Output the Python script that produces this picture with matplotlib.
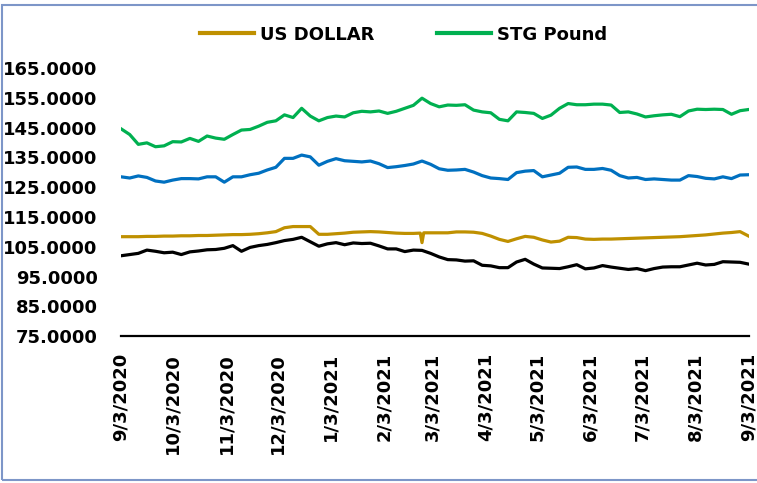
import matplotlib
matplotlib.use('Agg')
import numpy as np
import pandas as pd
import matplotlib.pyplot as plt
from matplotlib.lines import Line2D
from matplotlib.patches import Rectangle

# one value every 5 days from 9/3/2020 to 9/3/2021
start_date = '2020-09-03'
end_date = '2021-09-03'

stg_pound = [
    144.6, 142.7, 139.4, 139.9, 138.6, 138.9, 140.3, 140.2, 141.4, 140.4,
    142.2, 141.5, 141.1, 142.7, 144.2, 144.4, 145.5, 146.8, 147.3, 149.3,
    148.4, 151.5, 148.9, 147.3, 148.4, 148.9, 148.6, 150.0, 150.5, 150.3,
    150.6, 149.8, 150.5, 151.5, 152.5, 154.9, 153.1, 152.0, 152.6, 152.5,
    152.7, 150.9, 150.3, 150.0, 147.8, 147.3, 150.3, 150.1, 149.8, 148.1,
    149.2, 151.5, 153.1, 152.7, 152.7, 152.9, 152.9, 152.6, 150.1, 150.3,
    149.6, 148.6, 149.0, 149.3, 149.5, 148.7, 150.6, 151.2, 151.1, 151.2,
    151.1, 149.5, 150.7, 151.1,
]

blue_series = [
    128.5, 128.1, 128.8, 128.3, 127.1, 126.7, 127.4, 127.9, 127.9, 127.8,
    128.5, 128.5, 126.7, 128.5, 128.5, 129.2, 129.7, 130.8, 131.7, 134.7,
    134.7, 135.8, 135.2, 132.4, 133.7, 134.6, 133.9, 133.7, 133.5, 133.8,
    132.9, 131.6, 131.9, 132.3, 132.8, 133.8, 132.7, 131.2, 130.7, 130.8,
    131.0, 130.1, 128.9, 128.1, 127.9, 127.6, 129.9, 130.4, 130.6, 128.5,
    129.1, 129.7, 131.7, 131.8, 131.0, 131.0, 131.3, 130.7, 128.9, 128.1,
    128.3, 127.6, 127.8, 127.6, 127.4, 127.4, 128.9, 128.6, 128.0, 127.8,
    128.5, 127.9, 129.1, 129.2,
]

us_dollar = [
    108.4, 108.4, 108.4, 108.5, 108.5, 108.6, 108.6, 108.7, 108.7, 108.8,
    108.8, 108.9, 109.0, 109.1, 109.1, 109.2, 109.4, 109.7, 110.1, 111.4,
    111.8, 111.8, 111.8, 109.2, 109.2, 109.4, 109.6, 109.9, 110.0, 110.1,
    110.0, 109.8, 109.6, 109.5, 109.5, 106.4, 109.7, 109.7, 109.7, 110.0,
    110.0, 109.9, 109.5, 108.6, 107.5, 106.8, 107.7, 108.5, 108.2, 107.3,
    106.6, 106.9, 108.2, 108.1, 107.6, 107.5, 107.6, 107.6, 107.7, 107.8,
    107.9, 108.0, 108.1, 108.2, 108.3, 108.4, 108.6, 108.8, 109.0, 109.3,
    109.6, 109.8, 110.1, 108.6,
]
# the one-day dip in late Feb: neighbouring days
usd_extra_dates = ['2021-02-24', '2021-02-26']
usd_extra_vals = [109.6, 109.7]

black_series = [
    102.0, 102.4, 102.8, 103.9, 103.5, 103.0, 103.2, 102.4, 103.3, 103.6,
    104.0, 104.1, 104.5, 105.4, 103.5, 104.8, 105.4, 105.8, 106.4, 107.1,
    107.5, 108.2, 106.7, 105.2, 106.0, 106.4, 105.7, 106.3, 106.1, 106.2,
    105.3, 104.3, 104.3, 103.4, 103.9, 103.8, 102.8, 101.6, 100.7, 100.6,
    100.2, 100.3, 98.8, 98.6, 98.0, 98.0, 99.9, 100.8, 99.2, 97.9,
    97.8, 97.7, 98.3, 99.0, 97.6, 97.9, 98.7, 98.2, 97.8, 97.4,
    97.7, 97.0, 97.7, 98.2, 98.3, 98.3, 98.9, 99.5, 98.9, 99.1,
    100.0, 99.9, 99.8, 99.2,
]

tick_dates = ['2020-09-03', '2020-10-03', '2020-11-03', '2020-12-03', '2021-01-03',
              '2021-02-03', '2021-03-03', '2021-04-03', '2021-05-03', '2021-06-03',
              '2021-07-03', '2021-08-03', '2021-09-03']
tick_labels = ['9/3/2020', '10/3/2020', '11/3/2020', '12/3/2020', '1/3/2021',
               '2/3/2021', '3/3/2021', '4/3/2021', '5/3/2021', '6/3/2021',
               '7/3/2021', '8/3/2021', '9/3/2021']
y_ticks = [75, 85, 95, 105, 115, 125, 135, 145, 155, 165]

dates = pd.date_range(start_date, end_date, freq='5D')

usd = pd.Series(us_dollar, index=dates)
usd = pd.concat([usd, pd.Series(usd_extra_vals, index=pd.to_datetime(usd_extra_dates))]).sort_index()

plt.rcParams['font.family'] = ['DejaVu Sans']
plt.rcParams['font.weight'] = 'bold'

fig = plt.figure(figsize=(7.57, 4.83), dpi=100)
ax = fig.add_axes([0.160, 0.304, 0.829, 0.555])

lw = 2.3
ax.plot(dates, blue_series, color='#0070C0', lw=lw, solid_joinstyle='round')
ax.plot(dates, black_series, color='#000000', lw=lw, solid_joinstyle='round')
ax.plot(usd.index, usd.values, color='#BF9000', lw=lw, solid_joinstyle='round')
ax.plot(dates, stg_pound, color='#00B050', lw=lw, solid_joinstyle='round')

ax.set_xlim(pd.Timestamp(start_date), pd.Timestamp(end_date))
ax.set_ylim(75, 165)
ax.set_yticks(y_ticks)
ax.set_yticklabels([f'{v:.4f}' for v in y_ticks], fontsize=13, fontweight='bold')
ax.set_xticks(pd.to_datetime(tick_dates))
ax.set_xticklabels(tick_labels, rotation=90, fontsize=13, fontweight='bold')
ax.tick_params(axis='both', length=0)
ax.tick_params(axis='y', pad=17)
ax.tick_params(axis='x', pad=12)

for s in ['left', 'top', 'right']:
    ax.spines[s].set_visible(False)
ax.spines['bottom'].set_linewidth(1.6)
ax.spines['bottom'].set_color('black')

handles = [Line2D([], [], color='#BF9000', lw=3),
           Line2D([], [], color='#00B050', lw=3)]
fig.legend(handles, ['US DOLLAR', 'STG Pound'], loc='center', bbox_to_anchor=(0.533, 0.928),
           ncol=2, frameon=False, handlelength=3.0, handletextpad=0.3, columnspacing=3.5,
           prop={'size': 13, 'weight': 'bold'})

fig.patches.append(Rectangle((0.003, 0.006), 1.0, 0.983, transform=fig.transFigure,
                             fill=False, edgecolor='#7D96C8', lw=1.5))

plt.savefig('out.png', dpi=100)
plt.close()
